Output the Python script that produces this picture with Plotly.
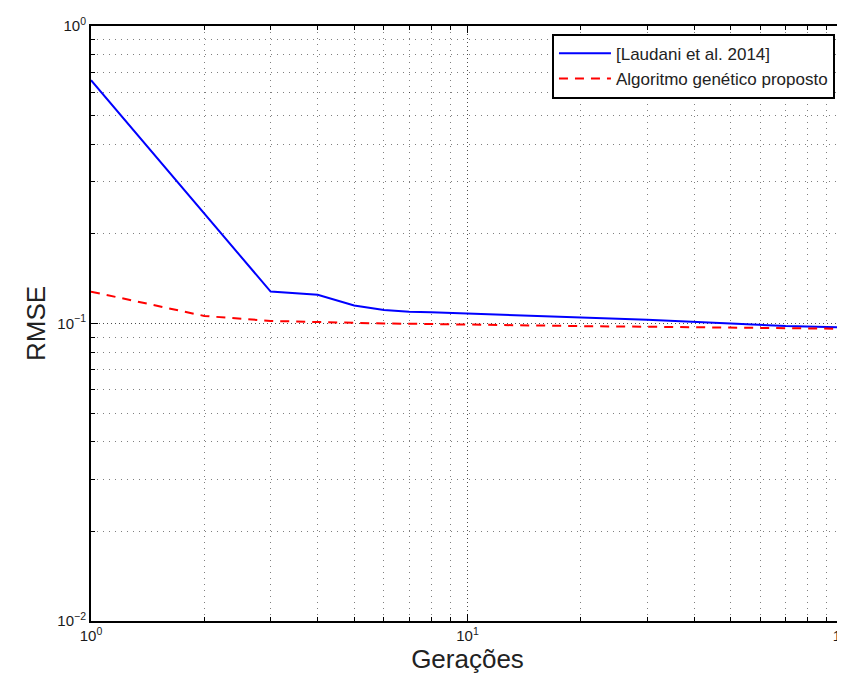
import plotly.graph_objects as go

generations = [1, 2, 3, 4, 5, 6, 7, 8, 10, 15, 20, 30, 50, 70, 100]
rmse_laudani = [0.657, 0.233, 0.128, 0.125, 0.115, 0.111, 0.1095, 0.109, 0.108, 0.1065, 0.105, 0.103, 0.1, 0.098, 0.097]
rmse_ga = [0.128, 0.106, 0.102, 0.101, 0.1003, 0.1, 0.0998, 0.0995, 0.099, 0.0985, 0.098, 0.0975, 0.097, 0.0965, 0.096]

x_major = [1, 10, 100]
x_major_text = ["10<sup>0</sup>", "10<sup>1</sup>", "10<sup>2</sup>"]
y_major = [0.01, 0.1, 1]
y_major_text = ["10<sup>−2</sup>", "10<sup>−1</sup>", "10<sup>0</sup>"]

x_minor = [m * d for d in (1, 10) for m in range(2, 10)]
y_minor = [m * d for d in (0.01, 0.1) for m in range(2, 10)]

FONT = "Liberation Sans, Arial, Helvetica"

fig = go.Figure()
fig.add_trace(go.Scatter(x=generations, y=rmse_laudani, mode="lines",
                         name="[Laudani et al. 2014]",
                         line=dict(color="#0000ff", width=2)))
fig.add_trace(go.Scatter(x=generations, y=rmse_ga, mode="lines",
                         name="Algoritmo genético proposto",
                         line=dict(color="#ff0000", width=2, dash="9px,7px")))

axis_common = dict(
    showline=True, linecolor="black", linewidth=2, mirror="allticks",
    ticks="inside", ticklen=7, tickcolor="black", tickwidth=1,
    showgrid=True, gridcolor="rgba(0,0,0,0.7)", griddash="1px,3px", gridwidth=1,
    zeroline=False, automargin=False, ticklabeloverflow="allow",
    tickfont=dict(family=FONT, size=15, color="#1a1a1a"),
)
minor_common = dict(ticks="inside", ticklen=4, tickcolor="black",
                    showgrid=True, gridcolor="rgba(0,0,0,0.5)", griddash="1px,5px", gridwidth=1)

fig.update_xaxes(type="log", range=[0, 2], tickmode="array", tickvals=x_major,
                 ticktext=x_major_text,
                 minor=dict(tickvals=x_minor, **minor_common),
                 title=dict(text="Gerações", font=dict(family=FONT, size=26, color="#222"),
                            standoff=4),
                 **axis_common)
fig.update_yaxes(type="log", range=[-2, 0], tickmode="array", tickvals=y_major,
                 ticktext=y_major_text,
                 minor=dict(tickvals=y_minor, **minor_common),
                 title=dict(text="RMSE", font=dict(family=FONT, size=26, color="#222"),
                            standoff=4),
                 **axis_common)

fig.update_layout(
    width=845, height=673,
    margin=dict(l=83, r=9, t=18, b=60),
    paper_bgcolor="white", plot_bgcolor="white",
    showlegend=True,
    legend=dict(x=0.988, y=0.987, xanchor="right", yanchor="top",
                bgcolor="white", bordercolor="black", borderwidth=2,
                font=dict(family=FONT, size=17, color="#222"),
                tracegroupgap=0, itemwidth=52),
)

fig.write_html("out.html")
